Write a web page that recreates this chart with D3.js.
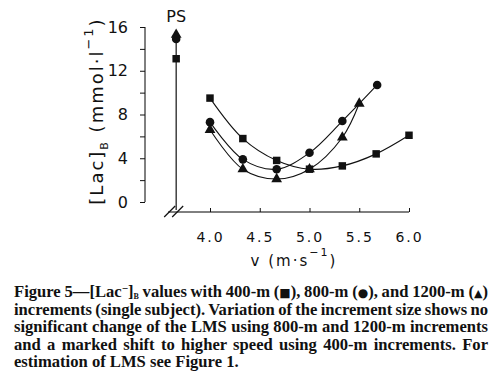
<!DOCTYPE html>
<html>
<head>
<meta charset="utf-8">
<script src="https://cdn.jsdelivr.net/npm/d3@7"></script>
<style>
  body { margin: 0; background: #fff; }
  svg { display: block; }
  .ax { font-family: "DejaVu Sans", sans-serif; fill: #111; }
  .cap { font-family: "Liberation Serif", "Times New Roman", serif; font-weight: bold; font-size: 16.6px; fill: #111; }
</style>
</head>
<body>
<div id="chart"></div>
<script>
// speeds (m/s) and blood lactate (mmol/l) per increment size
var speeds400 = [4.0, 4.33, 4.67, 5.0, 5.33, 5.67, 6.0];
var lac400 = [9.5, 5.8, 3.8, 3.0, 3.3, 4.4, 6.1];
var speeds800 = [4.0, 4.33, 4.67, 5.0, 5.33, 5.68];
var lac800 = [7.3, 3.9, 3.0, 4.5, 7.4, 10.7];
var speeds1200 = [4.0, 4.33, 4.67, 5.0, 5.33, 5.5];
var lac1200 = [6.6, 3.0, 2.1, 3.0, 5.9, 9.0];
// peak values (PS column), order 400, 800, 1200
var psLac = [13.1, 14.9, 15.3];
var psSpeed = 3.66;

var xTicks = [4.0, 4.5, 5.0, 5.5, 6.0];
var yTicks = [0, 2, 4, 6, 8, 10, 12, 14, 16];
var yLabels = [0, 4, 8, 12, 16];

var captionLines = [
  "increments (single subject). Variation of the increment size shows no",
  "significant change of the LMS using 800-m and 1200-m increments",
  "and a marked shift to higher speed using 400-m increments. For",
  "estimation of LMS see Figure 1."
];

var W = 500, H = 389;
var svg = d3.select('#chart').append('svg').attr('width', W).attr('height', H);

var x = d3.scaleLinear().domain([4, 6]).range([210, 409]);
var y = d3.scaleLinear().domain([0, 16]).range([202, 27]);

//y axis
var yAxis = d3.axisLeft(y).tickValues(yTicks).tickSize(5).tickPadding(12)
    .tickFormat(function(d){ return yLabels.indexOf(d) >= 0 ? d : ''; });
var gy = svg.append('g').attr('transform', 'translate(145,0)').call(yAxis);
gy.select('.domain').attr('d', 'M0,' + y(16) + 'V' + y(0));
gy.selectAll('text').attr('class', 'ax').style('font-size', '16px').attr('font-family', null);
gy.selectAll('line').attr('stroke', '#111');

//x axis
var xAxis = d3.axisBottom(x).tickValues(xTicks).tickSize(-4).tickPadding(20)
    .tickFormat(d3.format('.1f'));
var gx = svg.append('g').attr('transform', 'translate(0,212)').call(xAxis);
gx.select('.domain').attr('d', 'M168,0H' + x(6));
gx.selectAll('text').attr('class', 'ax').style('font-size', '14px').style('letter-spacing', '2px').attr('font-family', null);
gx.selectAll('line').attr('stroke', '#111');

//axis break
var bx = x(psSpeed);
[-12, -4].forEach(function(o){
  svg.append('line').attr('x1', bx + o).attr('y1', 217).attr('x2', bx + o + 11).attr('y2', 206)
    .attr('stroke', '#111').attr('stroke-width', 1.2);
});

//PS column
svg.append('line').attr('x1', bx).attr('x2', bx).attr('y1', y(15.3)).attr('y2', 210)
  .attr('stroke', '#111').attr('stroke-width', 1.2);
svg.append('text').attr('class', 'ax').attr('x', bx).attr('y', 22)
  .attr('text-anchor', 'middle').style('font-size', '16px').text('PS');

//titles
svg.append('text').attr('class', 'ax').attr('x', 294).attr('y', 266)
  .attr('text-anchor', 'middle').style('font-size', '15px').style('letter-spacing', '2px')
  .call(function(t){
    t.append('tspan').text('v (m\u00b7s');
    t.append('tspan').attr('dy', -10).style('font-size', '11px').text('\u22121');
    t.append('tspan').attr('dy', 10).text(')');
  });

svg.append('text').attr('class', 'ax')
  .attr('transform', 'translate(103,111) rotate(-90)')
  .attr('text-anchor', 'middle').style('font-size', '18px').style('letter-spacing', '2px')
  .call(function(t){
    t.append('tspan').text('[Lac]');
    t.append('tspan').attr('dy', 5).style('font-size', '11px').text('B');
    t.append('tspan').attr('dy', -5).text(' (mmol\u00b7l');
    t.append('tspan').attr('dy', -10).style('font-size', '13px').text('\u22121');
    t.append('tspan').attr('dy', 10).text(')');
  });

//series
var series = [
  {xs: speeds400, ys: lac400, shape: d3.symbolSquare, size: 56, ps: psLac[0]},
  {xs: speeds800, ys: lac800, shape: d3.symbolCircle, size: 58, ps: psLac[1]},
  {xs: speeds1200, ys: lac1200, shape: d3.symbolTriangle, size: 50, ps: psLac[2]}
];
var line = d3.line().curve(d3.curveCatmullRom.alpha(0.5))
    .x(function(d){ return x(d[0]); }).y(function(d){ return y(d[1]); });

series.forEach(function(s){
  var pts = s.xs.map(function(v, i){ return [v, s.ys[i]]; });
  svg.append('path').attr('d', line(pts)).attr('fill', 'none').attr('stroke', '#111').attr('stroke-width', 1.1);
  var sym = d3.symbol().type(s.shape).size(s.size);
  svg.selectAll(null).data(pts.concat([[psSpeed, s.ps]])).enter().append('path')
    .attr('d', sym).attr('fill', '#111')
    .attr('transform', function(d){ return 'translate(' + x(d[0]) + ',' + y(d[1]) + ')'; });
});

//caption
var capLeft = 14, capWidth = 474, base = 297, step = 17.6;
var l1 = svg.append('text').attr('class', 'cap').attr('x', capLeft).attr('y', base);
l1.append('tspan').text('Figure 5\u2014[Lac');
l1.append('tspan').attr('dy', -5).style('font-size', '11px').text('\u2212');
l1.append('tspan').attr('dy', 5).text(']');
l1.append('tspan').attr('dy', 2).style('font-size', '8px').text('B');
l1.append('tspan').attr('dy', -2).text(' values with 400-m (');
l1.append('tspan').style('font-size', '12px').style('font-family', 'DejaVu Sans').text('\u25a0');
l1.append('tspan').text('), 800-m (');
l1.append('tspan').style('font-size', '12px').style('font-family', 'DejaVu Sans').text('\u25cf');
l1.append('tspan').text('), and 1200-m (');
l1.append('tspan').style('font-size', '11px').style('font-family', 'DejaVu Sans').text('\u25b2');
l1.append('tspan').text(')');

var lines = [l1];
captionLines.forEach(function(s, i){
  lines.push(svg.append('text').attr('class', 'cap').attr('x', capLeft).attr('y', base + step * (i + 1)).text(s));
});
//justify all but last line
lines.forEach(function(t, i){
  if (i === lines.length - 1) return;
  var w = t.node().getComputedTextLength();
  var n = (t.text().match(/ /g) || []).length;
  if (n) t.style('word-spacing', ((capWidth - w) / n) + 'px');
});
</script>
</body>
</html>
